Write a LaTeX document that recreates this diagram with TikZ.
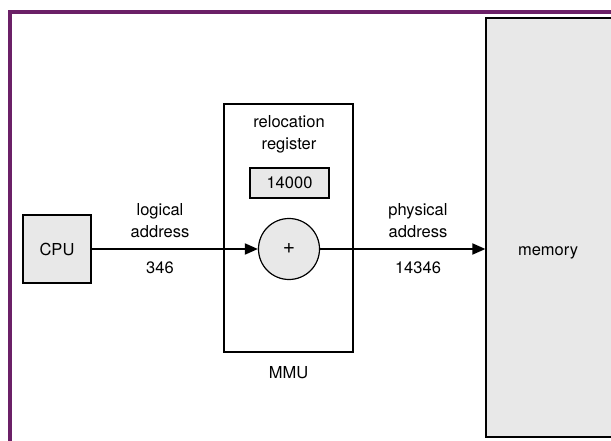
\documentclass[tikz,border=0pt]{standalone}
\usepackage{fontspec}
\setmainfont{TeX Gyre Heros}
\usetikzlibrary{arrows.meta}
\definecolor{framepurple}{HTML}{6B2067}
\definecolor{boxgray}{HTML}{E8E8E8}
\tikzset{
	unitbox/.style={draw, line width=1.2pt, fill=boxgray, inner sep=0pt},
	mmubox/.style={draw, line width=1.2pt, fill=white, inner sep=0pt, minimum width=129pt, minimum height=248pt},
	adder/.style={circle, draw, line width=1.2pt, fill=boxgray, minimum size=61pt, inner sep=0pt},
	bus/.style={line width=1.8pt, -{Triangle[length=13pt, width=11pt]}},
	txt/.style={align=center, inner sep=0pt}
}
\begin{document}
\begin{tikzpicture}[x=1pt, y=-1pt, font=\fontsize{16.5}{22}\selectfont]
	\useasboundingbox[fill=white] (0,0) rectangle (611,441);
	
	% Frame
	\draw[framepurple, line width=4pt] (10,445) -- (10,12) -- (615,12);
	
	% Memory
	\node[unitbox, minimum width=131pt, minimum height=419pt] (memory) at (551.5,227.5) {};
	\node[txt] (memtext) at (548,253) {memory};
	
	% MMU
	\node[mmubox] (mmu) at (288.5,228) {};
	\node[txt, below=14pt] (mmutext) at (mmu.south) {MMU};
	\node[txt] (reloc) at (289,134) {relocation\\register};
	\node[unitbox, minimum width=79pt, minimum height=30pt] (reg) at (289.5,183) {14000};
	\node[adder, font=\fontsize{21}{22}\selectfont] (add) at (289,249) {+};
	
	% CPU
	\node[unitbox, minimum width=68pt, minimum height=68pt] (cpu) at (57,249) {CPU};
	
	% Addresses
	\draw[bus] (cpu.east) -- (add.west);
	\draw[bus] (add.east) -- (memory.west |- add.east);
	\node[txt] (logical) at (160,221) {logical\\address};
	\node[txt] (logval) at (160,268) {346};
	\node[txt] (physical) at (418,221) {physical\\address};
	\node[txt] (physval) at (418,268) {14346};
\end{tikzpicture}
\end{document}
